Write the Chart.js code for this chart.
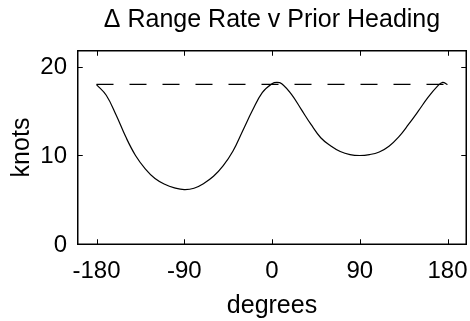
<!DOCTYPE html>
<html>
<head>
<meta charset="utf-8">
<script src="https://cdn.jsdelivr.net/npm/chart.js@4/dist/chart.umd.min.js"></script>
<style>
  html, body { margin: 0; padding: 0; background: #fff; }
  #chart { display: block; }
</style>
</head>
<body>
<canvas id="chart" width="470" height="321"></canvas>
<script>
// Data
const headingDeg = [-180, -170, -160, -150, -140, -130, -120, -110, -100, -90, -80, -70, -60, -50, -40, -30, -20, -10, 0, 5, 10, 20, 30, 40, 50, 60, 70, 80, 90, 100, 110, 120, 130, 140, 150, 160, 170, 175, 180];
const rangeRateKnots = [18.1, 16.9, 14.7, 12.2, 10.1, 8.6, 7.5, 6.85, 6.45, 6.25, 6.4, 6.95, 7.75, 8.95, 10.6, 12.9, 15.2, 17.2, 18.2, 18.35, 18.2, 17.0, 15.3, 13.6, 12.1, 11.2, 10.55, 10.2, 10.1, 10.2, 10.5, 11.15, 12.2, 13.6, 15.1, 16.65, 17.95, 18.35, 18.1];
const refDeg = [-180, 180];
const refKnots = [18.12, 18.12];
const xTicks = [-180, -90, 0, 90, 180];
const yTicks = [0, 10, 20];

const FONT = "'Liberation Sans', Arial, sans-serif";

// MATLAB style box with ticks pointing inwards
const frameTicks = {
    id: 'frameTicks',
    afterDraw(chart) {
        const ctx = chart.ctx;
        const a = chart.chartArea;
        const x = chart.scales.x;
        const y = chart.scales.y;
        const l = a.left + 0.75, r = a.right - 0.75;
        const t = a.top + 0.75, b = a.bottom - 0.75;
        ctx.save();
        ctx.strokeStyle = '#000';
        ctx.lineWidth = 1.5;
        ctx.strokeRect(l, t, r - l, b - t);
        ctx.lineWidth = 1;
        ctx.beginPath();
        xTicks.forEach(v => {
            const px = Math.round(x.getPixelForValue(v)) + 0.5;
            ctx.moveTo(px, b); ctx.lineTo(px, b - 5);
            ctx.moveTo(px, t); ctx.lineTo(px, t + 5);
        });
        yTicks.forEach(v => {
            const py = Math.round(y.getPixelForValue(v)) - 0.5;
            ctx.moveTo(l, py); ctx.lineTo(l + 5, py);
            ctx.moveTo(r, py); ctx.lineTo(r - 5, py);
        });
        ctx.stroke();
        ctx.restore();
    }
};

new Chart(document.getElementById('chart'), {
    type: 'line',
    data: {
        datasets: [{
            data: headingDeg.map((d, i) => ({ x: d, y: rangeRateKnots[i] })),
            borderColor: '#000',
            borderWidth: 1.2,
            pointRadius: 0,
            tension: 0.4
        }, {
            data: refDeg.map((d, i) => ({ x: d, y: refKnots[i] })),
            borderColor: '#000',
            borderWidth: 1.2,
            borderDash: [17, 16],
            pointRadius: 0
        }]
    },
    options: {
        responsive: false,
        animation: false,
        events: [],
        layout: { padding: { right: 3 } },
        plugins: {
            legend: { display: false },
            tooltip: { enabled: false },
            title: {
                display: true,
                text: '\u0394 Range Rate v Prior Heading',
                fullSize: false,
                color: '#000',
                font: { family: FONT, size: 25, weight: 'normal', lineHeight: 1 },
                padding: { top: 8, bottom: 17 }
            }
        },
        scales: {
            x: {
                type: 'linear',
                min: -200,
                max: 200,
                afterBuildTicks: s => { s.ticks = xTicks.map(v => ({ value: v })); },
                afterFit: s => { s.height = 76; s.paddingLeft = 0; s.paddingRight = 0; },
                grid: { display: false, drawTicks: false },
                border: { display: false },
                ticks: {
                    color: '#000',
                    font: { family: FONT, size: 24 },
                    padding: 12,
                    maxRotation: 0,
                    autoSkip: false
                },
                title: {
                    display: true,
                    text: 'degrees',
                    color: '#000',
                    font: { family: FONT, size: 25, lineHeight: 1.2 },
                    padding: { top: 0, bottom: 0 }
                }
            },
            y: {
                min: 0,
                max: 22,
                afterBuildTicks: s => { s.ticks = yTicks.map(v => ({ value: v })); },
                afterFit: s => { s.width = 77; s.paddingTop = 0; s.paddingBottom = 0; },
                grid: { display: false, drawTicks: false },
                border: { display: false },
                ticks: {
                    color: '#000',
                    font: { family: FONT, size: 24 },
                    padding: 10,
                    autoSkip: false
                },
                title: {
                    display: true,
                    text: 'knots',
                    color: '#000',
                    font: { family: FONT, size: 25, lineHeight: 1.2 },
                    padding: { top: 7, bottom: 0 }
                }
            }
        }
    },
    plugins: [frameTicks]
});
</script>
</body>
</html>
